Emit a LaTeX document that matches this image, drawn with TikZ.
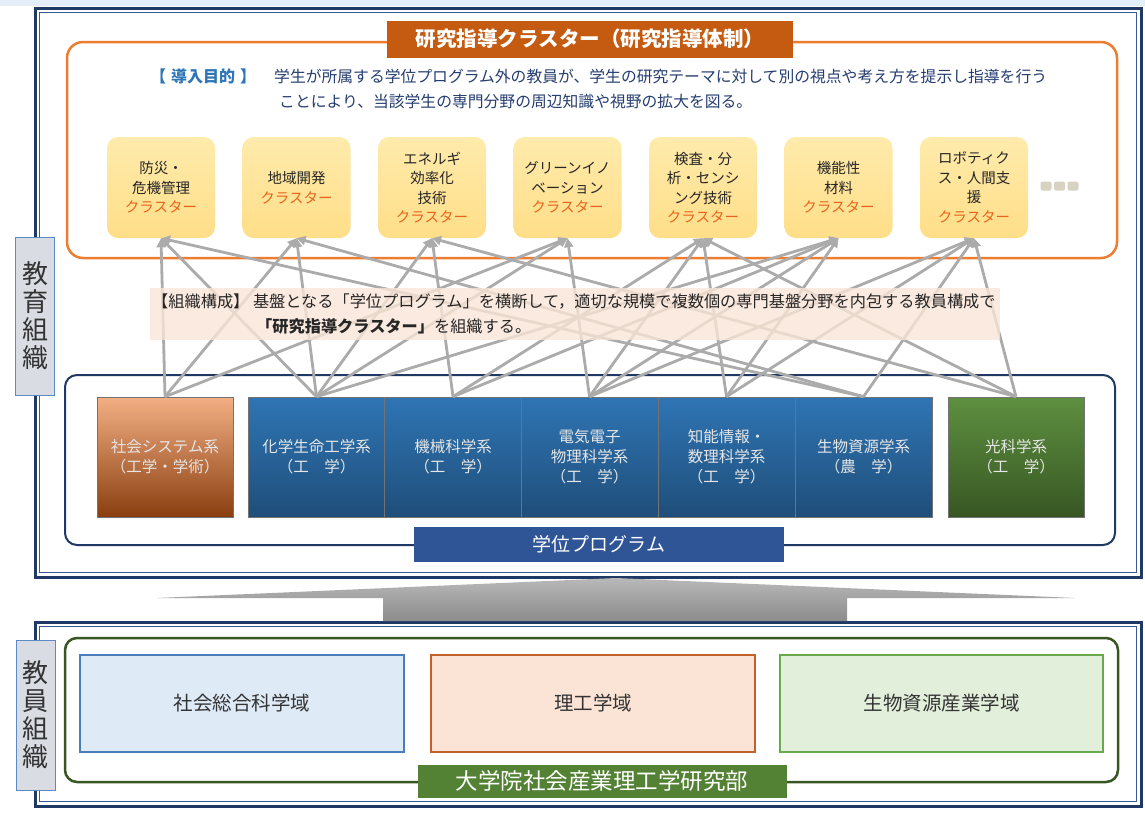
\documentclass[tikz,border=0pt]{standalone}
\usepackage{fontspec}
\setmainfont{Noto Sans CJK JP}
\usetikzlibrary{arrows.meta}
\definecolor{cNavy}{HTML}{1F3864}
\definecolor{cNavyB}{HTML}{3A5A95}
\definecolor{cOrgLine}{HTML}{ED7D31}
\definecolor{cTitle}{HTML}{C55A11}
\definecolor{cClTop}{HTML}{FFEBAC}
\definecolor{cClBot}{HTML}{FFDE88}
\definecolor{cClTxt}{HTML}{262626}
\definecolor{cClOr}{HTML}{E8641C}
\definecolor{cConn}{HTML}{ABABAB}
\definecolor{cIntroB}{HTML}{2E75B6}
\definecolor{cIntroT}{HTML}{253D70}
\definecolor{cOrgFill}{HTML}{FBE5D6}
\definecolor{cLabBlue}{HTML}{2F5597}
\definecolor{cLabGreen}{HTML}{548235}
\definecolor{cGreenLine}{HTML}{385723}
\definecolor{cProgTxt}{HTML}{E6E6E6}
\definecolor{cBlueTop}{HTML}{2F75B5}
\definecolor{cBlueBot}{HTML}{1F4E79}
\definecolor{cOrTop}{HTML}{F3B084}
\definecolor{cOrBot}{HTML}{8A3E10}
\definecolor{cGrTop}{HTML}{5E9040}
\definecolor{cGrBot}{HTML}{375623}
\definecolor{cVlabFill}{HTML}{D9DDE3}
\definecolor{cVlabLine}{HTML}{5B8BC5}
\definecolor{cD1Fill}{HTML}{DEEAF6}
\definecolor{cD1Line}{HTML}{4A7EBB}
\definecolor{cD2Fill}{HTML}{FBE4D5}
\definecolor{cD2Line}{HTML}{C0622A}
\definecolor{cD3Fill}{HTML}{E2EFDA}
\definecolor{cD3Line}{HTML}{6AA84F}
\definecolor{cTopStrip}{HTML}{E3EEF9}
\definecolor{cDots}{HTML}{D8D2C2}
\newcommand{\clsuffix}{\textcolor{cClOr}{クラスター}}
\begin{document}
\begin{tikzpicture}[x=1pt,y=-1pt,
  cl/.style={top color=cClTop,bottom color=cClBot,rounded corners=11pt,minimum width=108pt,minimum height=101pt,align=center,inner sep=1pt,font=\fontsize{14.5}{19.5}\selectfont,text=cClTxt},
  progbox/.style={minimum width=137pt,minimum height=120pt,align=center,inner sep=1pt,font=\fontsize{15.5}{20}\selectfont,text=cProgTxt,draw=black!55,line width=0.7pt},
  progblue/.style={progbox,top color=cBlueTop,bottom color=cBlueBot},
  conn/.style={draw=cConn,line width=2.8pt,-{Triangle[length=9pt,width=9pt]}},
  vlab/.style={fill=cVlabFill,draw=cVlabLine,line width=1pt,minimum width=39pt,align=center,inner sep=0pt,font=\fontsize{26}{28}\selectfont,text=black!80},
  dom/.style={minimum width=324pt,minimum height=97pt,line width=1.5pt,font=\fontsize{19.5}{23}\selectfont,text=black!80},
  txt/.style={inner sep=0pt,anchor=west}
]
\useasboundingbox (0,0) rectangle (1145,812);
\fill[white] (0,0) rectangle (1145,812);
\fill[cTopStrip] (0,0) rectangle (1145,6);
% frames
\draw[cNavy,line width=3pt] (35,8) rectangle (1141,577);
\draw[cNavyB,line width=1.2pt] (39.5,12.5) rectangle (1136.5,572.5);
\draw[cNavy,line width=3pt] (35,622) rectangle (1141,806);
\draw[cNavyB,line width=1.2pt] (39.5,626.5) rectangle (1136.5,801.5);
% big gray arrow
\shade[top color=black!28,bottom color=black!45] (157,598) -- (616,578) -- (1075,598) -- (847,598) -- (847,621) -- (383,621) -- (383,598) -- cycle;
% orange frame and title
\draw[cOrgLine,line width=2.5pt,rounded corners=16pt] (67,42) rectangle (1117,258);
\node[fill=cTitle,text=white,font=\bfseries\fontsize{20.5}{24}\selectfont,minimum width=406pt,minimum height=37pt,inner sep=0pt] (title) at (590,39) {研究指導クラスター（研究指導体制）};
\node[txt,text=cIntroB,font=\bfseries\fontsize{16}{18}\selectfont] (introh) at (150,76) {【\hspace{5pt}導入目的\hspace{5pt}】};
\node[txt,text=cIntroT,font=\fontsize{15.8}{18}\selectfont] (intro1) at (274,76) {学生が所属する学位プログラム外の教員が、学生の研究テーマに対して別の視点や考え方を提示し指導を行う};
\node[txt,text=cIntroT,font=\fontsize{15.8}{18}\selectfont] (intro2) at (279,101) {ことにより、当該学生の専門分野の周辺知識や視野の拡大を図る。};
% clusters
\node[cl] (c1) at (161,187.5) {防災・\\危機管理\\\clsuffix};
\node[cl] (c2) at (296.5,187.5) {地域開発\\\clsuffix};
\node[cl] (c3) at (432,187.5) {エネルギ\\効率化\\技術\\\clsuffix};
\node[cl] (c4) at (567.5,187.5) {グリーンイノ\\ベーション\\\clsuffix};
\node[cl] (c5) at (703,187.5) {検査・分\\析・センシ\\ング技術\\\clsuffix};
\node[cl] (c6) at (838.5,187.5) {機能性\\材料\\\clsuffix};
\node[cl] (c7) at (974,187.5) {ロボティク\\ス・人間支\\援\\\clsuffix};
\node[fill=cDots,rounded corners=2pt,minimum width=11pt,minimum height=9pt,inner sep=0pt] (dot1) at (1046,186) {};
\node[fill=cDots,rounded corners=2pt,minimum width=11pt,minimum height=9pt,inner sep=0pt] (dot2) at (1059.5,186) {};
\node[fill=cDots,rounded corners=2pt,minimum width=11pt,minimum height=9pt,inner sep=0pt] (dot3) at (1073,186) {};
% degree program frame
\draw[cNavy,line width=2pt,rounded corners=12pt] (65,375) rectangle (1115,545);
\node[fill=cLabBlue,text=white,font=\fontsize{19}{23}\selectfont,minimum width=370pt,minimum height=35pt,inner sep=0pt] (dplab) at (599,544.5) {学位プログラム};
% programs
\node[progbox,top color=cOrTop,bottom color=cOrBot,minimum width=136pt] (p1) at (165,457) {社会システム系\\（工学・学術）};
\node[progblue] (p2) at (316.5,457) {化学生命工学系\\（工\quad 学）};
\node[progblue] (p3) at (453,457) {機械科学系\\（工\quad 学）};
\node[progblue] (p4) at (589.5,457) {電気電子\\物理科学系\\（工\quad 学）};
\node[progblue] (p5) at (726.5,457) {知能情報・\\数理科学系\\（工\quad 学）};
\node[progblue] (p6) at (863.5,457) {生物資源学系\\（農\quad 学）};
\node[progbox,top color=cGrTop,bottom color=cGrBot,minimum width=136pt] (p7) at (1016,457) {光科学系\\（工\quad 学）};
% connectors
\foreach \c/\p in {1/1,1/2,1/6,2/1,2/2,2/6,3/2,3/3,3/7,4/1,4/2,4/4,5/3,5/4,5/5,5/7,6/2,6/3,6/4,6/5,7/4,7/5,7/6,7/7}
  \draw[conn] (p\p.north) -- (c\c.south);
% organisation note
\node[fill=cOrgFill,fill opacity=0.78,minimum width=850pt,minimum height=52pt,inner sep=0pt] (orgbox) at (575,314) {};
\node[txt,text=black!85,font=\fontsize{16.2}{18}\selectfont] (org1) at (152,302) {【組織構成】\ 基盤となる「学位プログラム」を横断して，適切な規模で複数個の専門基盤分野を内包する教員構成で};
\node[txt,text=black!85,font=\fontsize{16.2}{18}\selectfont] (org2) at (256,326) {\textbf{「研究指導クラスター」}を組織する。};
% vertical labels
\node[vlab,minimum height=158pt] (edu) at (35,316) {教\\育\\組\\織};
\node[vlab,minimum height=150pt] (fac) at (36,715) {教\\員\\組\\織};
% faculty organisation
\draw[cGreenLine,line width=2.5pt,rounded corners=12pt] (65,638) rectangle (1118,782);
\node[dom,fill=cD1Fill,draw=cD1Line] (d1) at (242,703.5) {社会総合科学域};
\node[dom,fill=cD2Fill,draw=cD2Line] (d2) at (593,703.5) {理工学域};
\node[dom,fill=cD3Fill,draw=cD3Line,minimum width=323pt] (d3) at (941.5,703.5) {生物資源産業学域};
\node[fill=cLabGreen,text=white,font=\fontsize{22.5}{26}\selectfont,minimum width=369pt,minimum height=33pt,inner sep=0pt] (grlab) at (602,781) {大学院社会産業理工学研究部};
\end{tikzpicture}
\end{document}
